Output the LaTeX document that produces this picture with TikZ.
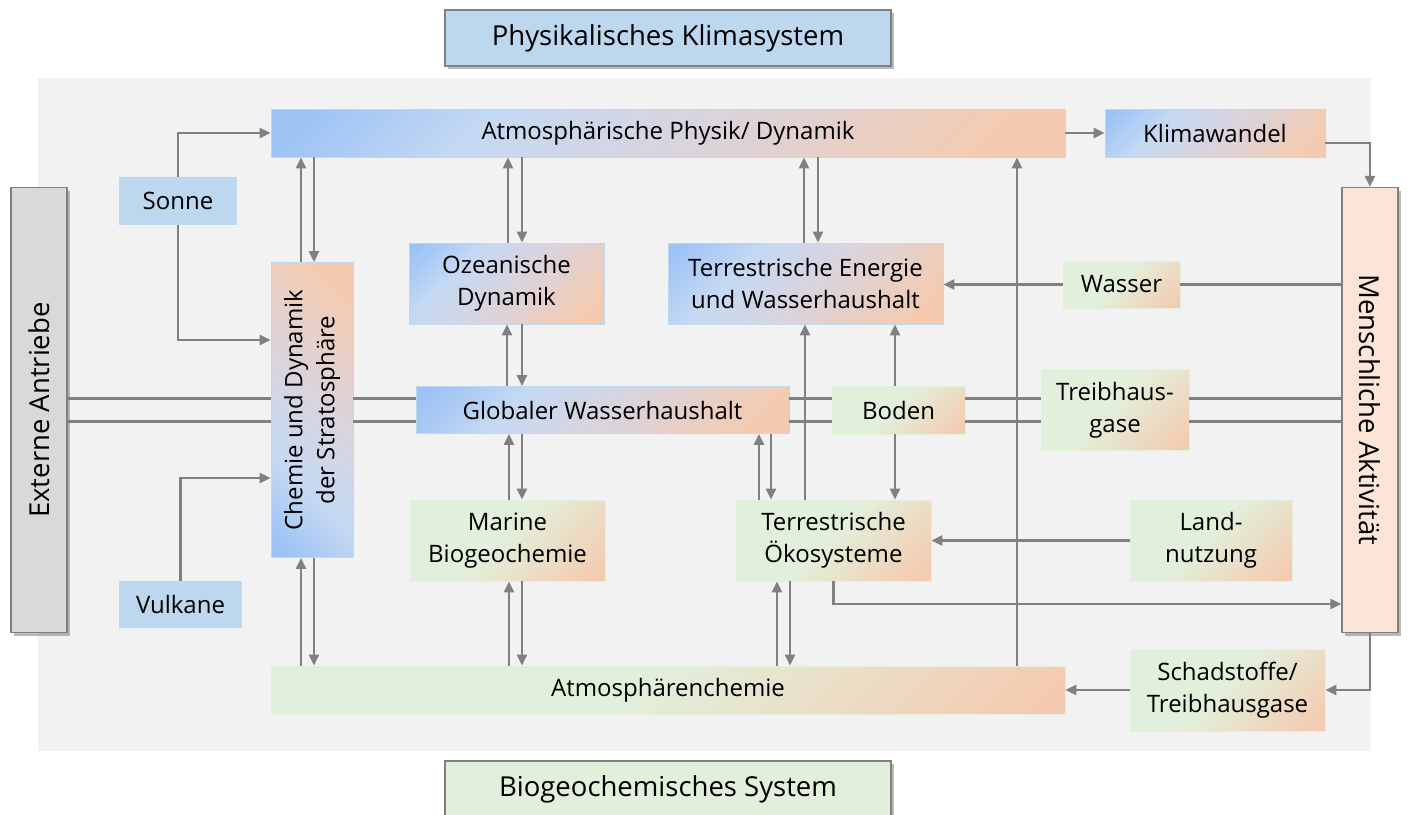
\documentclass[tikz,border=0pt]{standalone}
\usepackage{fontspec}
\setmainfont{Open Sans}
\usetikzlibrary{arrows.meta,shadows}
\definecolor{LineGrey}{RGB}{128,128,128}
\definecolor{PanelGrey}{RGB}{242,242,242}
\definecolor{TitleBlue}{RGB}{189,215,238}
\definecolor{TitleGreen}{RGB}{226,239,218}
\definecolor{SideGrey}{RGB}{217,217,217}
\definecolor{SidePeach}{RGB}{251,229,214}
\definecolor{GradBlue}{RGB}{157,195,245}
\definecolor{GradLight}{RGB}{197,217,243}
\definecolor{GradMid}{RGB}{217,212,222}
\definecolor{GradPeach}{RGB}{244,203,176}
\definecolor{GradGreen}{RGB}{226,239,218}
\pgfdeclarehorizontalshading{bluepeach}{100bp}{color(0bp)=(GradBlue); color(18bp)=(GradBlue); color(34bp)=(GradLight); color(52bp)=(GradMid); color(78bp)=(GradPeach); color(100bp)=(GradPeach)}
\pgfdeclarehorizontalshading{greenpeach}{100bp}{color(0bp)=(GradGreen); color(48bp)=(GradGreen); color(82bp)=(GradPeach); color(100bp)=(GradPeach)}
\tikzset{
  titlebox/.style={draw=LineGrey,line width=1.2pt,inner sep=0pt,
    font=\fontsize{27.5}{32}\selectfont,
    drop shadow={shadow xshift=3pt,shadow yshift=-3pt,opacity=0.45,fill=black!60}},
  bluebox/.style={shade,shading=bluepeach,shading angle=-45,draw=TitleBlue,
    line width=0.8pt,inner sep=0pt,align=center,font=\fontsize{24}{32}\selectfont},
  greenbox/.style={shade,shading=greenpeach,shading angle=-45,draw=TitleGreen,
    line width=0.8pt,inner sep=0pt,align=center,font=\fontsize{24}{32}\selectfont},
  plainbox/.style={fill=TitleBlue,inner sep=0pt,font=\fontsize{24}{32}\selectfont},
  arrow/.style={-{Triangle[length=11pt,width=10pt]},line width=2.4pt,LineGrey},
  link/.style={line width=2.4pt,LineGrey},
  bus/.style={line width=3pt,LineGrey}
}
\begin{document}
\begin{tikzpicture}[x=1pt,y=-1pt]
  \useasboundingbox (0,0) rectangle (1408,814);
  \fill[PanelGrey] (38,78) rectangle (1371,751);

  \node[titlebox,fill=TitleBlue,minimum width=446pt,minimum height=56pt] (phys) at (668,38) {Physikalisches Klimasystem};
  \node[titlebox,fill=TitleGreen,minimum width=446pt,minimum height=56pt] (bio) at (668,789) {Biogeochemisches System};
  \node[titlebox,fill=SideGrey,minimum width=56pt,minimum height=445pt] (ext) at (39,410) {\rotatebox{90}{Externe Antriebe}};
  \node[titlebox,fill=SidePeach,minimum width=56pt,minimum height=445pt] (mensch) at (1370,410) {\rotatebox{-90}{Menschliche Aktivität}};

  \node[bluebox,minimum width=794pt,minimum height=48pt] (atm) at (668,133) {Atmosphärische Physik/ Dynamik};
  \node[bluebox,minimum width=220pt,minimum height=48pt] (klima) at (1215,133) {Klimawandel};
  \node[plainbox,minimum width=118pt,minimum height=48pt] (sonne) at (178,201) {Sonne};
  \node[plainbox,minimum width=123pt,minimum height=47pt] (vulk) at (180.5,604.5) {Vulkane};
  \node[bluebox,shading angle=45,minimum width=82pt,minimum height=295pt] (chem) at (312,410)
    {\rotatebox{90}{\begin{tabular}{@{}c@{}}Chemie und Dynamik\\der Stratosphäre\end{tabular}}};
  \node[bluebox,minimum width=195pt,minimum height=81pt] (ozean) at (506.5,283.5) {Ozeanische\\Dynamik};
  \node[bluebox,minimum width=275pt,minimum height=81pt] (terre) at (805.5,283.5) {Terrestrische Energie\\und Wasserhaushalt};
  \node[greenbox,minimum width=117pt,minimum height=47pt] (wasser) at (1121.5,284.5) {Wasser};
  \node[bluebox,minimum width=373pt,minimum height=47pt] (glob) at (602.5,410) {Globaler Wasserhaushalt};
  \node[greenbox,minimum width=133pt,minimum height=48pt] (boden) at (898.5,410) {Boden};
  \node[greenbox,minimum width=148pt,minimum height=81pt] (treib) at (1115,410) {Treibhaus-\\gase};
  \node[greenbox,minimum width=195pt,minimum height=81pt] (marine) at (507.5,540.5) {Marine\\Biogeochemie};
  \node[greenbox,minimum width=195pt,minimum height=81pt] (terrok) at (833.5,540.5) {Terrestrische\\Ökosysteme};
  \node[greenbox,minimum width=162pt,minimum height=81pt] (land) at (1211,540.5) {Land-\\nutzung};
  \node[greenbox,minimum width=794pt,minimum height=48pt] (achem) at (668,690) {Atmosphärenchemie};
  \node[greenbox,minimum width=195pt,minimum height=82pt] (schad) at (1227.5,690) {Schadstoffe/\\Treibhausgase};

  \draw[arrow] (sonne.north) |- (atm.west);
  \draw[arrow] (sonne.south) |- ([yshift=70pt]chem.west);
  \draw[arrow] (vulk.north) |- ([yshift=-68pt]chem.west);
  \foreach \dy in {11.5,-11.5}
    \draw[bus] ([yshift=\dy pt]ext.east) -- ([yshift=\dy pt]chem.west)
      ([yshift=\dy pt]chem.east) -- ([yshift=\dy pt]glob.west)
      ([yshift=\dy pt]glob.east) -- ([yshift=\dy pt]boden.west)
      ([yshift=\dy pt]boden.east) -- ([yshift=\dy pt]treib.west)
      ([yshift=\dy pt]treib.east) -- ([yshift=\dy pt]mensch.west);
  \foreach \x/\a/\b in {301/chem/atm,301/achem/chem,508/ozean/atm,507/glob/ozean,509/marine/glob,
      509/achem/marine,804/terre/atm,805/terrok/terre,895/boden/terre,759/terrok/glob,
      777/achem/terrok,1017/achem/atm}
    \draw[arrow] (\a.north -| \x,0) -- (\b.south -| \x,0);
  \foreach \x/\a/\b in {314/atm/chem,314/chem/achem,522/atm/ozean,522/ozean/glob,522/glob/marine,
      522/marine/achem,818/atm/terre,895/boden/terrok,771/glob/terrok,790/terrok/achem}
    \draw[arrow] (\a.south -| \x,0) -- (\b.north -| \x,0);
  \draw[arrow] (atm.east) -- (klima.west);
  \draw[arrow] ([yshift=-10pt]klima.east) -| (mensch.north);
  \draw[arrow] (mensch.south) |- (schad.east);
  \draw[arrow] (schad.west) -- (achem.east);
  \draw[link] (mensch.west |- wasser.east) -- (wasser.east);
  \draw[arrow] (wasser.west) -- (wasser.west -| terre.east);
  \draw[arrow] (land.west) -- (land.west -| terrok.east);
  \draw[arrow] (terrok.south) |- ([yshift=-194pt]mensch.west);
\end{tikzpicture}
\end{document}
